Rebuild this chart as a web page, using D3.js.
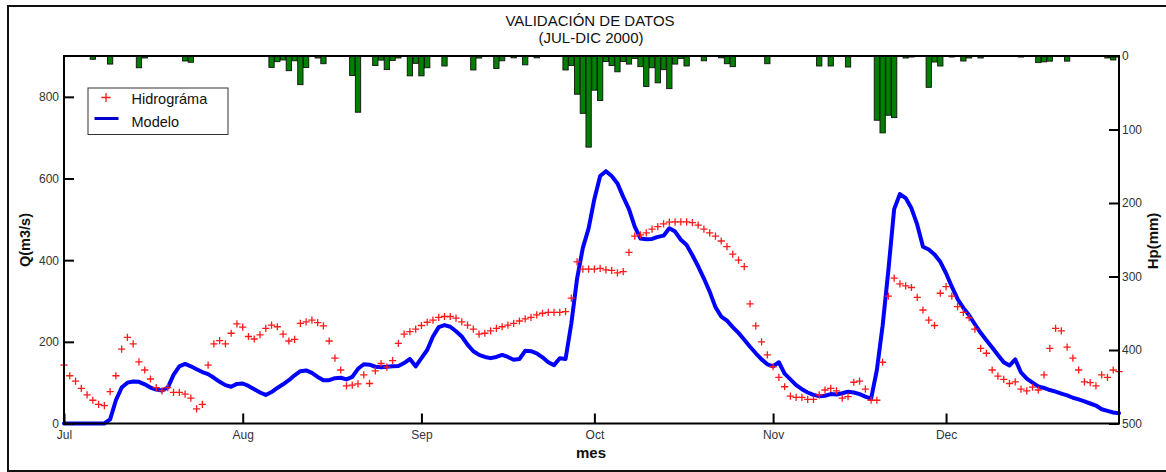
<!DOCTYPE html>
<html>
<head>
<meta charset="utf-8">
<script src="https://cdn.jsdelivr.net/npm/d3@7"></script>
<style>
  html, body { margin: 0; padding: 0; background: #fff; }
  svg { display: block; }
  text { font-family: "Liberation Sans", Arial, sans-serif; }
</style>
</head>
<body>
<svg id="chart" width="1166" height="472"></svg>
<script>
// Month ticks (day offset from 1 Jul 2000) and their labels
const monthDays = [0, 31, 62, 92, 123, 153];
const monthLabels = ["Jul", "Aug", "Sep", "Oct", "Nov", "Dec"];
const qTicks = [0, 200, 400, 600, 800];
const pTicks = [0, 100, 200, 300, 400, 500];

// Observed discharge (m3/s), one value per day, 1 Jul – 31 Dec
const observed = [
  143,117,104,86,70,57,47,44,78,117,
  182,211,195,151,131,109,88,80,88,76,
  76,72,62,36,47,143,195,203,195,221,
  244,236,213,207,217,233,241,237,219,202,
  206,245,249,253,247,239,202,160,131,92,
  94,97,119,98,129,147,138,154,196,219,
  225,231,240,248,253,260,262,262,258,249,
  241,231,219,221,227,233,237,241,245,251,
  256,260,266,270,272,272,272,274,307,396,
  378,378,378,380,376,375,369,372,419,459,
  462,467,476,482,489,493,494,494,494,492,
  486,476,467,459,447,433,415,400,384,293,
  239,200,168,139,113,90,67,64,64,59,
  59,70,82,86,80,62,66,101,104,84,
  57,57,150,312,356,342,337,333,309,278,
  253,240,319,335,312,286,272,259,231,184,
  172,131,116,108,98,102,84,80,89,82,
  119,184,233,227,187,160,131,102,100,92,
  119,113,131,127
];

// Simulated discharge (m3/s), one value per day
const model = [
  0,0,0,0,0,0,0,0,10,57,
  88,100,103,102,96,88,83,81,88,119,
  140,146,140,133,126,121,112,102,94,90,
  97,98,92,84,76,70,77,87,96,106,
  118,128,130,124,114,106,106,111,112,108,
  114,134,145,144,139,138,139,140,141,148,
  158,140,160,180,213,236,241,237,226,213,
  193,177,168,163,160,163,168,163,156,158,
  178,177,172,162,150,143,160,158,245,355,
  430,478,550,606,618,606,588,555,525,482,
  453,451,452,457,460,478,470,450,437,412,
  385,355,323,285,262,252,236,222,205,188,
  172,157,145,140,150,122,108,94,84,76,
  70,67,68,72,71,74,78,76,72,66,
  61,131,240,376,525,562,552,527,487,433,
  426,414,396,368,335,305,283,265,243,222,
  204,186,168,150,142,157,125,110,100,91,
  87,82,78,73,69,63,59,54,49,44,
  35,31,27,25
];

// Daily precipitation (mm) on rainy days
const rainDay = [5,8,13,14,21,22,36,37,38,39,40,41,42,44,45,50,51,54,55,56,57,58,
  60,61,62,63,66,71,72,75,76,78,80,82,87,88,89,90,91,92,93,94,95,96,97,98,99,100,
  101,102,103,104,105,106,107,108,111,114,115,116,122,131,133,136,141,142,143,144,
  146,147,150,151,152,154,156,157,159,166,169,170,171,174,181,182];
const rainMm = [4.5,11,16,2.7,6.8,8.5,15.5,7.7,5.4,20,6.5,39,15.7,2.7,10.5,26.5,76.5,
  13,5.6,18.5,6,2.7,27,10,27,16,13.6,19,2.8,17,6.5,2.5,12,2.5,19,13,52,78,124,46.5,
  60.5,7.5,13,21.5,7.5,11,3.3,14.5,41.5,16,36.5,18.6,44.4,11,3.3,13.6,6.5,2.5,10.5,
  14.5,10.5,13.6,13.6,15,87.4,104.6,80.6,83.8,2.7,1.4,42.6,8.2,13.6,1.4,6.8,2.7,2.7,
  1.4,9,8,7,7,2.7,5.4];

const svg = d3.select("#chart");
const L = 64, R = 1119, T = 56, B = 423.5;

const x = d3.scaleLinear().domain([0, 183]).range([L, R]);
const yQ = d3.scaleLinear().domain([0, 900]).range([B, T]);
const yP = d3.scaleLinear().domain([0, 500]).range([T, B]);

// figure frame
svg.append("rect").attr("x", 8).attr("y", 6).attr("width", 1170).attr("height", 465)
  .attr("fill", "#fff").attr("stroke", "#111").attr("stroke-width", 2);

// title
svg.append("text").attr("x", 590).attr("y", 26).attr("text-anchor", "middle")
  .attr("font-size", 15).attr("fill", "#111").text("VALIDACIÓN DE DATOS");
svg.append("text").attr("x", 591).attr("y", 43).attr("text-anchor", "middle")
  .attr("font-size", 15).attr("fill", "#111").text("(JUL-DIC 2000)");

// precipitation bars hanging from the top
const barW = (x(1) - x(0)) * 0.92;
svg.append("g").selectAll("rect").data(rainDay).join("rect")
  .attr("x", (d) => x(d) - barW / 2)
  .attr("y", yP(0))
  .attr("width", barW)
  .attr("height", (d, i) => yP(rainMm[i]) - yP(0))
  .attr("fill", "#007f00").attr("stroke", "#111").attr("stroke-width", 0.9);

// simulated discharge
const line = d3.line().x((d, i) => x(i)).y((d) => yQ(d));
svg.append("path").datum(model).attr("d", line)
  .attr("fill", "none").attr("stroke", "#0000ff").attr("stroke-width", 4)
  .attr("stroke-linejoin", "round").attr("stroke-linecap", "round");

// observed discharge markers
const plus = (s) => `M${-s},0H${s}M0,${-s}V${s}`;
svg.append("g").selectAll("path").data(observed).join("path")
  .attr("transform", (d, i) => `translate(${x(i)},${yQ(d)})`)
  .attr("d", plus(3.6))
  .attr("stroke", "#ff1a1a").attr("stroke-width", 1.3).attr("fill", "none");

// axes
function styleAxis(g) {
  g.select(".domain").remove();
  g.selectAll(".tick line").attr("stroke", "#000").attr("stroke-width", 2);
  g.selectAll(".tick text").attr("font-size", 12).attr("fill", "#333")
    .attr("font-family", "Liberation Sans, Arial, sans-serif");
}
svg.append("g").attr("transform", `translate(${L},0)`)
  .call(d3.axisLeft(yQ).tickValues(qTicks).tickSize(-10).tickPadding(5))
  .call(styleAxis);
svg.append("g").attr("transform", `translate(${R},0)`)
  .call(d3.axisRight(yP).tickValues(pTicks).tickSize(-10).tickPadding(3))
  .call(styleAxis);
svg.append("g").attr("transform", `translate(0,${B})`)
  .call(d3.axisBottom(x).tickValues(monthDays).tickSize(-10).tickPadding(7)
    .tickFormat((d, i) => monthLabels[i]))
  .call(styleAxis);

// plot box
svg.append("rect").attr("x", L).attr("y", T).attr("width", R - L).attr("height", B - T)
  .attr("fill", "none").attr("stroke", "#000").attr("stroke-width", 2);

// axis titles
svg.append("text").attr("transform", "translate(30,240) rotate(-90)")
  .attr("text-anchor", "middle").attr("font-size", 14.5).attr("font-weight", "bold")
  .attr("fill", "#111").text("Q(m3/s)");
svg.append("text").attr("transform", "translate(1158,241) rotate(-90)")
  .attr("text-anchor", "middle").attr("font-size", 15).attr("font-weight", "bold")
  .attr("fill", "#111").text("Hp(mm)");
svg.append("text").attr("x", 591).attr("y", 458).attr("text-anchor", "middle")
  .attr("font-size", 15).attr("font-weight", "bold").attr("fill", "#111").text("mes");

// legend
const lg = svg.append("g");
lg.append("rect").attr("x", 88).attr("y", 88).attr("width", 140).attr("height", 46.5)
  .attr("fill", "#fff").attr("stroke", "#333").attr("stroke-width", 1);
lg.append("path").attr("transform", "translate(106,97.5)").attr("d", plus(4.6))
  .attr("stroke", "#ff1a1a").attr("stroke-width", 1.3);
lg.append("line").attr("x1", 94.5).attr("x2", 118.5).attr("y1", 118.5).attr("y2", 118.5)
  .attr("stroke", "#0000cc").attr("stroke-width", 3);
lg.append("text").attr("x", 131.5).attr("y", 104).attr("font-size", 14.5)
  .attr("fill", "#111").text("Hidrográma");
lg.append("text").attr("x", 131.5).attr("y", 126.5).attr("font-size", 14.5)
  .attr("fill", "#111").text("Modelo");
</script>
</body>
</html>
